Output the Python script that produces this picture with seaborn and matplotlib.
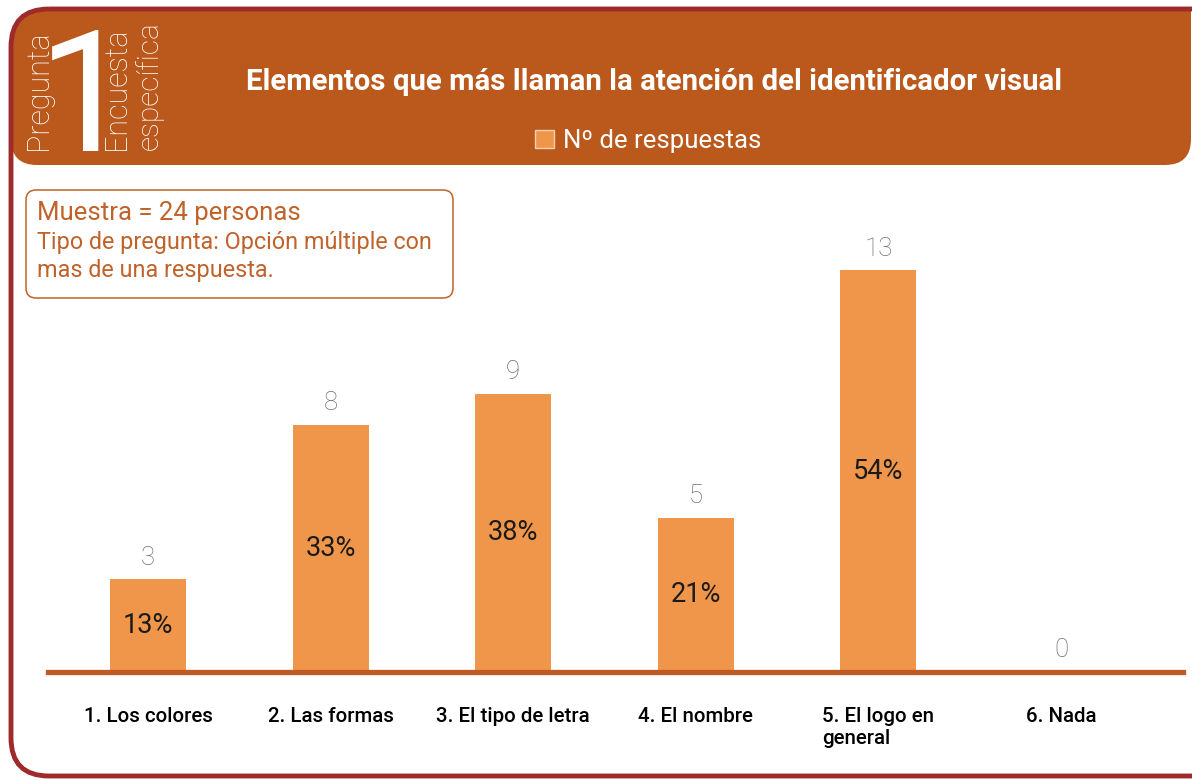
import matplotlib
matplotlib.use("Agg")
import matplotlib.pyplot as plt
import seaborn as sns
from matplotlib.patches import FancyBboxPatch, Patch

# data
categories = ["1. Los colores", "2. Las formas", "3. El tipo de letra",
              "4. El nombre", "5. El logo en\ngeneral", "6. Nada"]
counts = [3, 8, 9, 5, 13, 0]
pct_labels = ["13%", "33%", "38%", "21%", "54%", ""]
legend_label = "Nº de respuestas"
title = "Elementos que más llaman la atención del identificador visual"

header_color = "#BB591D"
border_color = "#9E2A2B"
bar_color = "#F0964A"
line_color = "#BF5B22"
note_color = "#C0622A"

sns.set_style("white")
plt.rcParams["font.family"] = ["Roboto", "DejaVu Sans"]

W, H = 1192, 780
fig = plt.figure(figsize=(W / 100, H / 100), dpi=100)

# background layer in pixel coordinates
bg = fig.add_axes([0, 0, 1, 1], zorder=0)
bg.set_xlim(0, W)
bg.set_ylim(H, 0)
bg.axis("off")

frame = FancyBboxPatch((11, 9), 1230, 767, boxstyle="round,pad=0,rounding_size=38",
                       facecolor="white", edgecolor="none")
bg.add_patch(frame)
header = FancyBboxPatch((11, -40), 1180, 205, boxstyle="round,pad=0,rounding_size=26",
                        facecolor=header_color, edgecolor="none")
bg.add_patch(header)
header.set_clip_path(frame)
bg.add_patch(FancyBboxPatch((11, 9), 1230, 767, boxstyle="round,pad=0,rounding_size=38",
                            facecolor="none", edgecolor=border_color, lw=3.5))

# header block: "Pregunta 1 Encuesta específica"
bg.text(39, 150, "Pregunta", rotation=90, color="white", fontsize=22,
        fontweight="light", ha="center", va="bottom")
bg.text(85, 151, "1", color="white", fontsize=122, ha="center", va="baseline")
bg.text(116, 150, "Encuesta", rotation=90, color="white", fontsize=22,
        fontweight="light", ha="center", va="bottom")
bg.text(149, 150, "específica", rotation=90, color="white", fontsize=21.5,
        fontweight="light", ha="center", va="bottom")
bg.text(654, 82, title, color="white", fontsize=21.2, fontweight="bold",
        ha="center", va="center")

# sample note
bg.add_patch(FancyBboxPatch((26, 190), 427, 108, boxstyle="round,pad=0,rounding_size=10",
                            facecolor="white", edgecolor=note_color, lw=1.1))
bg.text(37, 213, "Muestra = 24 personas", color=note_color, fontsize=18.5,
        ha="left", va="center")
bg.text(37, 243, "Tipo de pregunta: Opción múltiple con", color=note_color,
        fontsize=16.8, ha="left", va="center")
bg.text(37, 271, "mas de una respuesta.", color=note_color, fontsize=16.8,
        ha="left", va="center")

# bar chart
ax = fig.add_axes([48 / W, 108 / H, 1135 / W, 432 / H], zorder=2)
ax.patch.set_alpha(0)
sns.barplot(x=categories, y=counts, color=bar_color, saturation=1, width=0.416,
            linewidth=0, ax=ax)
ax.set_xlim(-0.548, 5.668)
ax.set_ylim(0, 432 / 30.9)

ax.bar_label(ax.containers[0], labels=[str(c) for c in counts], padding=7,
             color="#6E6E6E", fontsize=18.5, fontweight="light")
ax.bar_label(ax.containers[0], labels=pct_labels, label_type="center",
             color="#1A1A1A", fontsize=19.5)

for s in ["top", "left", "right"]:
    ax.spines[s].set_visible(False)
ax.spines["bottom"].set_color(line_color)
ax.spines["bottom"].set_linewidth(3.8)
ax.set_yticks([])
ax.set_xlabel("")
ax.set_ylabel("")
ax.tick_params(axis="x", length=0, pad=25, labelsize=14.8, labelcolor="black")
for lab in ax.get_xticklabels():
    lab.set_fontweight("medium")
    lab.set_multialignment("left")

handle = Patch(facecolor=bar_color, edgecolor="#F6D0B0", linewidth=1)
fig.legend(handles=[handle], labels=[legend_label], loc="center",
           bbox_to_anchor=(648 / W, 1 - 141 / H), frameon=False,
           labelcolor="white", fontsize=18.5, handlelength=0.75, handleheight=0.75,
           handletextpad=0.35)

fig.savefig("out.png", dpi=100)
